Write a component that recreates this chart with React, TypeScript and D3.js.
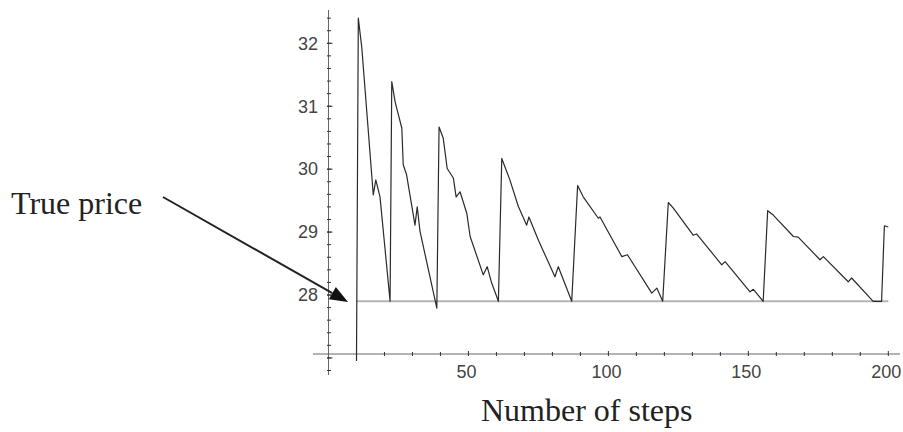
import React from "react";
import * as d3 from "d3";

// sawtooth price path (step, price)
const steps = [
  10, 10.65, 11.9, 16.0, 16.9, 18.4, 22.0,
  22.6, 23.8, 26.2, 26.7, 27.9, 30.9, 31.7, 32.7, 38.7,
  39.5, 41.0, 42.4, 44.6, 45.6, 47.0, 49.4, 50.6, 55.3, 56.7, 58.3, 60.7,
  61.9, 64.8, 67.8, 70.8, 71.6, 75.0, 80.9, 82.1, 86.9,
  89.0, 91.0, 96.4, 97.0, 104.8, 106.8, 115.5, 117.3, 119.4,
  121.4, 123.2, 130.3, 131.5, 140.5, 141.7, 150.6, 151.8, 155.3,
  156.9, 158.9, 166.1, 167.8, 175.6, 176.8, 185.7, 186.9, 194.6, 197.6,
  198.6, 200.0,
];
const prices = [
  26.95, 32.4, 31.93, 29.59, 29.83, 29.56, 27.9,
  31.39, 31.07, 30.65, 30.07, 29.91, 29.11, 29.4, 29.01, 27.79,
  30.67, 30.49, 30.01, 29.86, 29.56, 29.64, 29.3, 28.93, 28.32, 28.45, 28.19, 27.9,
  30.17, 29.83, 29.41, 29.11, 29.24, 28.87, 28.29, 28.45, 27.9,
  29.74, 29.56, 29.22, 29.24, 28.61, 28.64, 28.03, 28.11, 27.9,
  29.47, 29.38, 28.95, 28.97, 28.48, 28.53, 28.05, 28.09, 27.9,
  29.34, 29.27, 28.93, 28.92, 28.56, 28.61, 28.21, 28.27, 27.9, 27.9,
  29.1, 29.08,
];

const truePrice = 27.9;
const truePriceFrom = 10;
const truePriceTo = 200;

const xTickLabels = [50, 100, 150, 200];
const yTickLabels = [28, 29, 30, 31, 32];

const xLabel = "Number of steps";
const noteLabel = "True price";

export default function App() {
  const width = 903;
  const height = 432;

  const x = d3.scaleLinear().domain([0, 200]).range([328.5, 888.3]);
  const y = d3.scaleLinear().domain([28, 32]).range([295, 43.3]);

  const axisY = 354; // where the x axis crosses
  const axisX = x(0);

  const pts: [number, number][] = steps.map((s, i) => [s, prices[i]]);
  const line = d3
    .line<[number, number]>()
    .x((d) => x(d[0]))
    .y((d) => y(d[1]));

  const xMinor = d3.range(10, 201, 10);
  const yMinor = d3.range(26.8, 32.41, 0.2);
  const yMajor = d3.range(27, 33, 1);

  // arrow from the note to the true price line
  const a0 = [163, 197];
  const a1 = [348, 302];
  const ang = Math.atan2(a1[1] - a0[1], a1[0] - a0[0]);
  const headLen = 18;
  const headHalf = 7;
  const bx = a1[0] - headLen * Math.cos(ang);
  const by = a1[1] - headLen * Math.sin(ang);
  const head = [
    [a1[0], a1[1]],
    [bx + headHalf * Math.sin(ang), by - headHalf * Math.cos(ang)],
    [bx - headHalf * Math.sin(ang), by + headHalf * Math.cos(ang)],
  ];

  const tickFont = "'Liberation Sans', Arial, sans-serif";
  const textFont = "'Liberation Serif', 'Times New Roman', serif";

  return (
    <svg
      width={width}
      height={height}
      style={{ position: "absolute", left: 0, top: 0, background: "#fff" }}
    >
      {/* axes */}
      <line x1={313} x2={900} y1={axisY} y2={axisY} stroke="#666" strokeWidth={1} />
      <line x1={axisX} x2={axisX} y1={10} y2={375} stroke="#666" strokeWidth={1} />

      {xMinor.map((t) => (
        <line
          key={"xt" + t}
          x1={x(t)}
          x2={x(t)}
          y1={axisY - (t % 50 === 0 ? 3 : 2)}
          y2={axisY + 2}
          stroke="#333"
          strokeWidth={1}
        />
      ))}
      {yMinor.map((t, i) => (
        <line
          key={"ym" + i}
          x1={axisX - 1.5}
          x2={axisX + 2.5}
          y1={y(t)}
          y2={y(t)}
          stroke="#333"
          strokeWidth={1}
        />
      ))}
      {yMajor.map((t) => (
        <line
          key={"yM" + t}
          x1={axisX - 1.5}
          x2={axisX + 4}
          y1={y(t)}
          y2={y(t)}
          stroke="#333"
          strokeWidth={1}
        />
      ))}

      {xTickLabels.map((t) => (
        <text
          key={"xl" + t}
          x={x(t) - 2}
          y={378}
          textAnchor="middle"
          fontFamily={tickFont}
          fontSize={18}
          fill="#444"
        >
          {t}
        </text>
      ))}
      {yTickLabels.map((t) => (
        <text
          key={"yl" + t}
          x={318}
          y={y(t)}
          dy="0.35em"
          textAnchor="end"
          fontFamily={tickFont}
          fontSize={18}
          fill="#444"
        >
          {t}
        </text>
      ))}

      {/* true price */}
      <line
        x1={x(truePriceFrom)}
        x2={x(truePriceTo)}
        y1={y(truePrice)}
        y2={y(truePrice)}
        stroke="#b4b4b4"
        strokeWidth={2}
      />

      {/* price path */}
      <path d={line(pts) ?? ""} fill="none" stroke="#2a2a2a" strokeWidth={1.2} strokeLinejoin="round" />

      {/* annotation */}
      <line x1={a0[0]} y1={a0[1]} x2={bx} y2={by} stroke="#222" strokeWidth={2} />
      <polygon points={head.map((p) => p.join(",")).join(" ")} fill="#111" />
      <text x={11} y={214} fontFamily={textFont} fontSize={32} fill="#222">
        {noteLabel}
      </text>

      <text x={481} y={421} fontFamily={textFont} fontSize={32} fill="#222">
        {xLabel}
      </text>
    </svg>
  );
}
